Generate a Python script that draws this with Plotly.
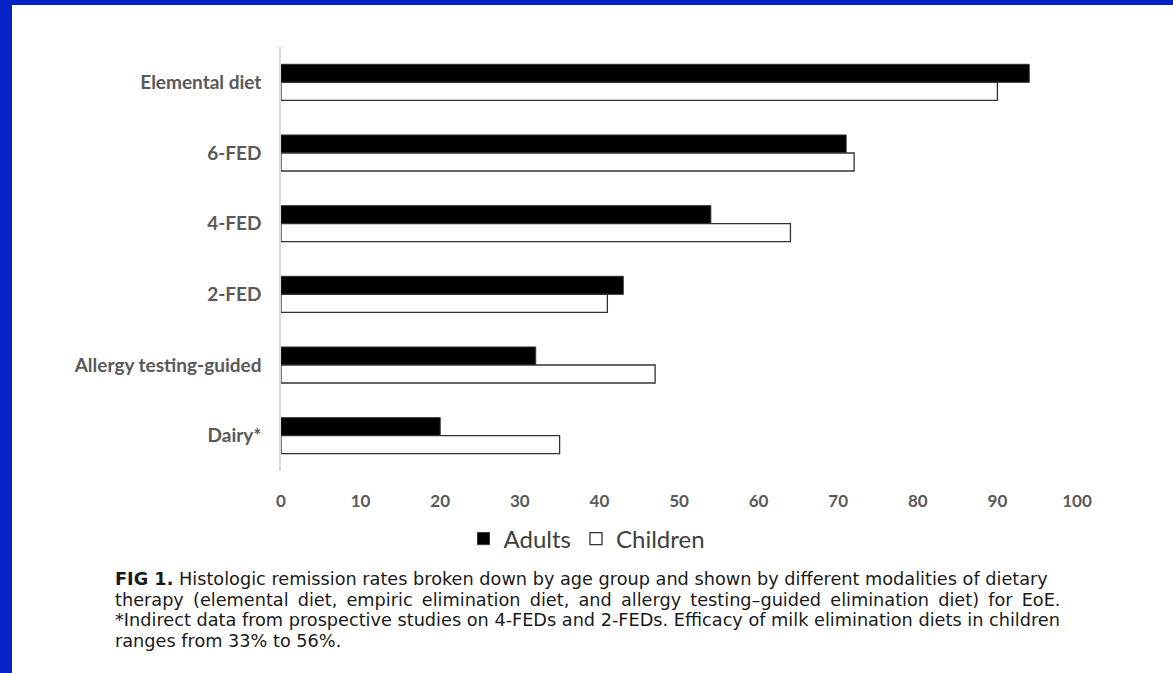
import plotly.graph_objects as go

categories = ["Elemental diet", "6-FED", "4-FED", "2-FED", "Allergy testing-guided", "Dairy*"]
adults = [94, 71, 54, 43, 32, 20]
children = [90, 72, 64, 41, 47, 35]
x_ticks = [0, 10, 20, 30, 40, 50, 60, 70, 80, 90, 100]
TS = " \u2009"  # justified word gap
caption_lines = [
    "<b>FIG 1.</b> Histologic remission rates broken down by age group and shown by different modalities of dietary",
    TS.join("therapy (elemental diet, empiric elimination diet, and allergy testing\u2013guided elimination diet) for EoE.".split(" ")),
    "*Indirect data from prospective studies on 4-FEDs and 2-FEDs. Efficacy of milk elimination diets in children",
    "ranges from 33% to 56%.",
]

W, H = 1173, 673
L, R, T, B = 281, 96, 47, 202
pw, ph = W - L - R, H - T - B

def px_x(x):
    return (x - L) / pw

def px_y(y):
    return (H - B - y) / ph

fig = go.Figure()
fig.add_trace(go.Bar(
    y=categories, x=adults, orientation="h", name="Adults",
    marker=dict(color="black", line=dict(color="#333333", width=1)),
))
fig.add_trace(go.Bar(
    y=categories, x=children, orientation="h", name="Children",
    marker=dict(color="white", line=dict(color="#333333", width=1.3)),
))

shapes = [dict(type="rect", xref="paper", yref="paper",
               x0=px_x(12), x1=px_x(W + 5), y0=px_y(5), y1=px_y(H + 5),
               fillcolor="white", line=dict(width=0), layer="below")]

annotations = []
for i, line in enumerate(caption_lines):
    annotations.append(dict(
        text=line, xref="paper", yref="paper", x=px_x(113), y=px_y(579 + i * 20.5),
        xanchor="left", yanchor="middle", showarrow=False, align="left",
        font=dict(family="DejaVu Sans, sans-serif", size=17.7, color="#1a1a1a"),
    ))

fig.update_layout(
    width=W, height=H,
    margin=dict(l=L, r=R, t=T, b=B, pad=0),
    paper_bgcolor="#0624c6",
    plot_bgcolor="white",
    barmode="group",
    bargap=0.49,
    bargroupgap=0,
    showlegend=True,
    legend=dict(orientation="h", x=px_x(587), xanchor="center", y=px_y(539), yanchor="middle",
                font=dict(family="Lato, sans-serif", size=24, color="#404040"),
                bgcolor="rgba(0,0,0,0)", traceorder="normal", itemwidth=30),
    xaxis=dict(range=[0, 100], tickvals=x_ticks, showgrid=False, zeroline=False, showline=False,
               ticks="", tickfont=dict(family="Lato, sans-serif", size=17, color="#595959", weight="bold"),
               ticklabelstandoff=18, fixedrange=True),
    yaxis=dict(autorange="reversed", showgrid=False, zeroline=False, showline=True,
               linecolor="#d9d9d9", linewidth=1.5, ticks="",
               tickfont=dict(family="Lato, sans-serif", size=19, color="#595959", weight="bold"),
               ticklabelstandoff=14, fixedrange=True),
    shapes=shapes,
    annotations=annotations,
)

fig.write_html("out.html", config={"displayModeBar": False},
               post_script="document.body.style.margin='0';document.body.style.padding='0';")
